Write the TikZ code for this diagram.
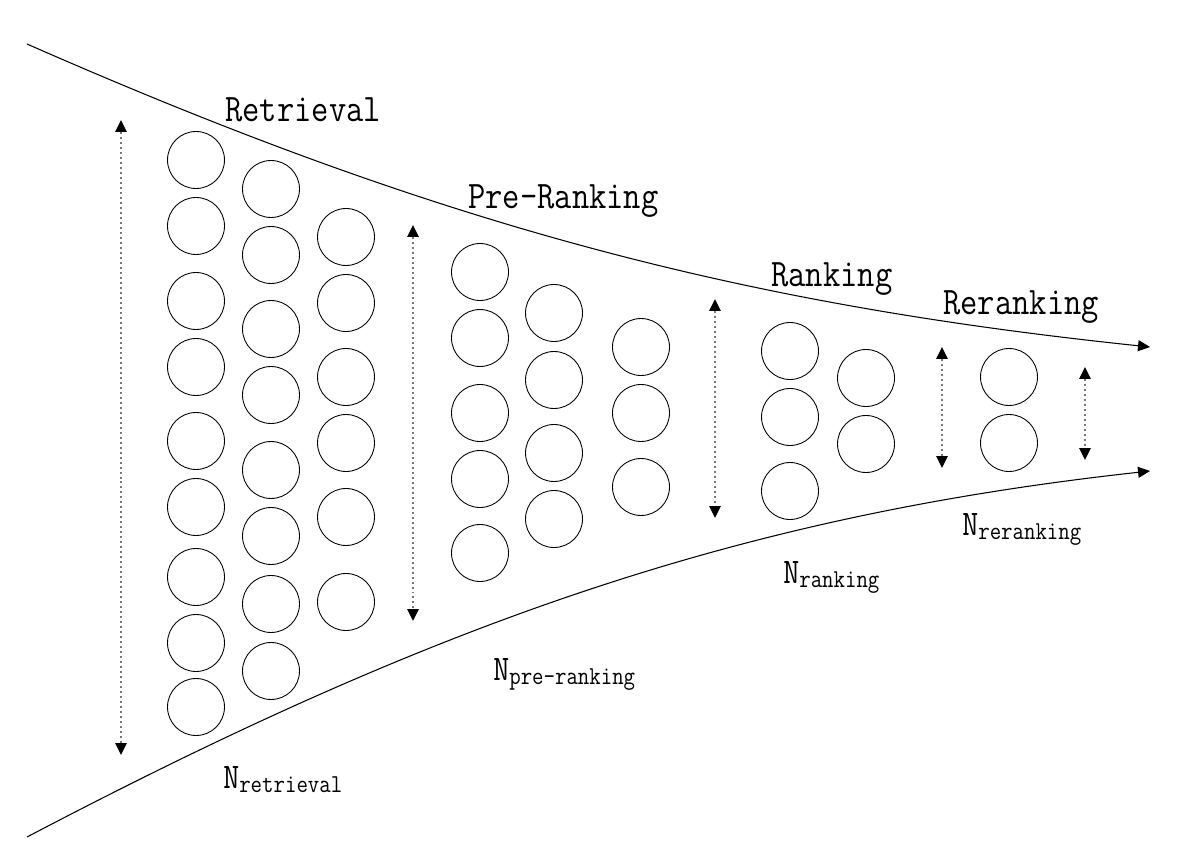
\documentclass[tikz,border=0pt]{standalone}
\usepackage{fontspec}
\usepackage{tikz}
\usetikzlibrary{arrows.meta}
\newfontfamily\stagefont{Latin Modern Mono}[FakeStretch=0.86]
\definecolor{dotgray}{HTML}{777777}
\newcommand{\nsub}[1]{N\raisebox{-2.8pt}{\fontsize{14.7}{16}\selectfont #1}}

\tikzset{
  item/.style={circle,draw,minimum size=1.14cm,inner sep=0pt,line width=0.5pt},
  span/.style={dotgray,line width=0.9pt,dash pattern=on 0.04cm off 0.06cm,
    {Triangle[length=0.24cm,width=0.23cm,black]}-{Triangle[length=0.24cm,width=0.23cm,black]}},
  flow/.style={line width=0.6pt,-{Triangle[length=0.24cm,width=0.22cm]}},
  stage/.style={anchor=base west,inner sep=0pt,font=\stagefont\fontsize{22.2}{24}\selectfont},
  count/.style={anchor=base west,inner sep=0pt,font=\stagefont\fontsize{20.5}{22}\selectfont}
}

\begin{document}
\begin{tikzpicture}[x=0.02cm,y=-0.02cm]
  \useasboundingbox (0,0) rectangle (1182,864);
  \coordinate (top-in) at (27,44);   \coordinate (top-out) at (1150,347);
  \coordinate (bot-in) at (27,837);  \coordinate (bot-out) at (1150,471);
  \draw[flow] (top-in) .. controls (450,230) and (750,305) .. (top-out);
  \draw[flow] (bot-in) .. controls (450,615) and (750,515) .. (bot-out);
  \foreach \x/\ys [count=\c] in {196/{160,226,301,367,441,507,577,643,707},
      271/{189,255,329,395,470,536,604,671}, 346/{237,303,377,443,517,602},
      480/{272,338,413,479,553}, 554/{313,380,453,519}, 641/{347,413,487},
      790/{351,417,491}, 866/{378,444}, 1009/{377,443}}
    \foreach \y [count=\r] in \ys
      \node[item] (c\c-\r) at (\x,\y) {};
  \coordinate (ret-t) at (121,120);  \coordinate (ret-b) at (121,755);
  \coordinate (pre-t) at (413,225);  \coordinate (pre-b) at (413,621);
  \coordinate (rank-t) at (715,299); \coordinate (rank-b) at (715,518);
  \coordinate (rer-t) at (942,347);  \coordinate (rer-b) at (942,468);
  \coordinate (out-t) at (1085,367); \coordinate (out-b) at (1085,460);
  \draw[span] (ret-t) -- (ret-b);
  \draw[span] (pre-t) -- (pre-b);
  \draw[span] (rank-t) -- (rank-b);
  \draw[span] (rer-t) -- (rer-b);
  \draw[span] (out-t) -- (out-b);
  \node[stage] (retrieval) at (225,122) {Retrieval};
  \node[stage] (preranking) at (468,209) {Pre-Ranking};
  \node[stage] (ranking) at (771,287) {Ranking};
  \node[stage] (reranking) at (943,315) {Reranking};
  \node[count] (nret) at (223,788) {\nsub{retrieval}};
  \node[count] (npre) at (493,680) {\nsub{pre-ranking}};
  \node[count] (nrank) at (783,583) {\nsub{ranking}};
  \node[count] (nrer) at (962,535) {\nsub{reranking}};
\end{tikzpicture}
\end{document}
